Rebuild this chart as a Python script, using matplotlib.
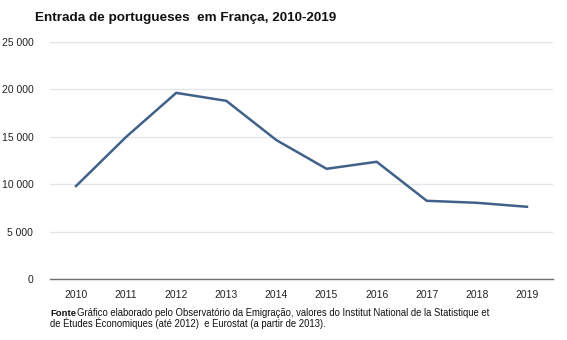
import matplotlib.pyplot as plt

anos = [2010, 2011, 2012, 2013, 2014, 2015, 2016, 2017, 2018, 2019]
entradas = [9820, 15000, 19640, 18800, 14660, 11640, 12380, 8270, 8060, 7640]
yticks = [0, 5000, 10000, 15000, 20000, 25000]
ytick_labels = ['0', '5 000', '10 000', '15 000', '20 000', '25 000']

plt.rcParams['font.family'] = ['Liberation Sans', 'DejaVu Sans']

fig = plt.figure(figsize=(5.67, 3.4), dpi=100)
ax = fig.add_axes([50/567, 1 - 279.3/340, 503/567, 237.3/340])

ax.plot(anos, entradas, color='#41618a', linewidth=1.8, solid_joinstyle='miter')

ax.set_xlim(2010 - 26/50.1, 2019 + 26/50.1)
ax.set_ylim(0, 25000)
ax.set_xticks(anos)
ax.set_xticklabels([str(a) for a in anos])
ax.set_yticks(yticks)
ax.set_yticklabels(ytick_labels)
ax.grid(axis='y', color='#e2e6ea', linewidth=1)
ax.set_axisbelow(True)
for s in ['top', 'right', 'left']:
    ax.spines[s].set_visible(False)
ax.spines['bottom'].set_color('#707070')
ax.spines['bottom'].set_linewidth(1)
ax.tick_params(length=0, labelsize=7.5, colors='#222222')
ax.tick_params(axis='x', pad=8)
ax.tick_params(axis='y', pad=12)

fig.text(35/567, 1 - 18/340, 'Entrada de portugueses  em França, 2010-2019',
         fontsize=9.7, fontweight='bold', va='center', color='#111111')

# nota de fonte
fig.text(50/567, 1 - 313/340, 'Fonte', fontsize=6.8, fontweight='bold',
         va='center', color='#111111')
fig.text(77/567, 1 - 313/340,
         'Gráfico elaborado pelo Observatório da Emigração, valores do Institut National de la Statistique et',
         fontsize=6.85, va='center', color='#111111')
fig.text(50/567, 1 - 323.5/340,
         'de Études Économiques (até 2012)  e Eurostat (a partir de 2013).',
         fontsize=6.85, va='center', color='#111111')

fig.savefig('out.png', dpi=100)
